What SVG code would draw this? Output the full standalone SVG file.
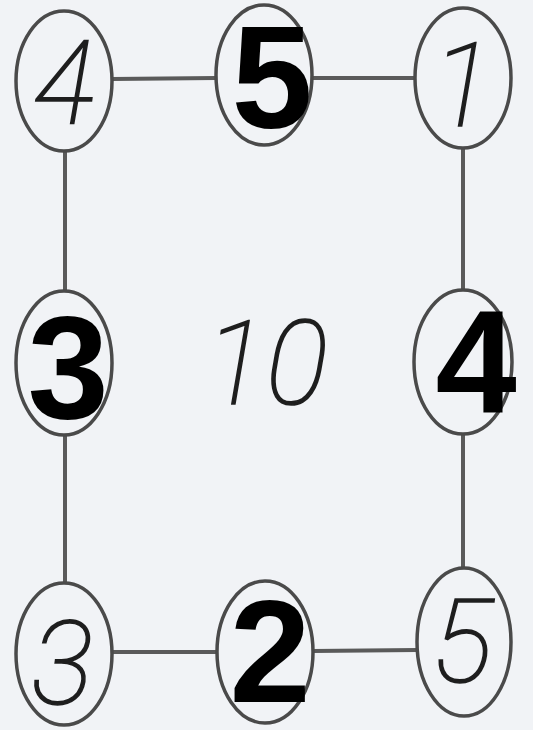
<svg xmlns="http://www.w3.org/2000/svg" width="533" height="730" viewBox="0 0 533 730">
<style>
.bg{fill:#f1f3f6}
.node ellipse{fill:none;stroke:#4a4a4a;stroke-width:3.5}
.edge{stroke:#5a5a5a;stroke-width:4;fill:none}
.hand{font-family:Roboto,Inter,Lato,"DejaVu Sans",sans-serif;font-weight:100;font-style:italic;font-size:116px;fill:#1e1e1e;stroke:#1e1e1e;stroke-width:1.6;text-anchor:middle}
.bold{font-family:"Liberation Sans",Arial,sans-serif;font-weight:bold;font-size:146px;fill:#000;text-anchor:middle}
</style>
<rect class="bg" x="0" y="0" width="533" height="730"/>
<g id="connectors">
<line class="edge" x1="112" y1="79" x2="216" y2="78"/>
<line class="edge" x1="313" y1="78" x2="415" y2="78"/>
<line class="edge" x1="65" y1="151" x2="65" y2="292"/>
<line class="edge" x1="463" y1="148" x2="463" y2="290"/>
<line class="edge" x1="65" y1="435" x2="65" y2="584"/>
<line class="edge" x1="463" y1="435" x2="463" y2="568"/>
<line class="edge" x1="112" y1="652" x2="217" y2="652"/>
<line class="edge" x1="313" y1="651" x2="417" y2="650"/>
</g>
<g id="n-top-left" class="node"><ellipse cx="64" cy="81" rx="48" ry="70"/><text class="hand" x="64" y="124">4</text></g>
<g id="n-top-mid" class="node"><ellipse cx="264" cy="75" rx="48" ry="70"/><text class="bold" x="272" y="128">5</text></g>
<g id="n-top-right" class="node"><ellipse cx="463" cy="78" rx="48" ry="70"/><text class="hand" x="462" y="126">1</text></g>
<g id="n-mid-left" class="node"><ellipse cx="64" cy="363" rx="48" ry="72"/><text class="bold" x="68" y="418">3</text></g>
<g id="n-mid-right" class="node"><ellipse cx="463" cy="362" rx="49" ry="72"/><text class="bold" x="476" y="413">4</text></g>
<g id="n-bot-left" class="node"><ellipse cx="64" cy="654" rx="48" ry="71"/><text class="hand" x="62" y="704">3</text></g>
<g id="n-bot-mid" class="node"><ellipse cx="265" cy="652" rx="48" ry="71"/><text class="bold" x="270" y="702">2</text></g>
<g id="n-bot-right" class="node"><ellipse cx="464" cy="642" rx="47" ry="74"/><text class="hand" x="462" y="682">5</text></g>
<g id="center-label"><text class="hand" x="266" y="404">10</text></g>
</svg>
